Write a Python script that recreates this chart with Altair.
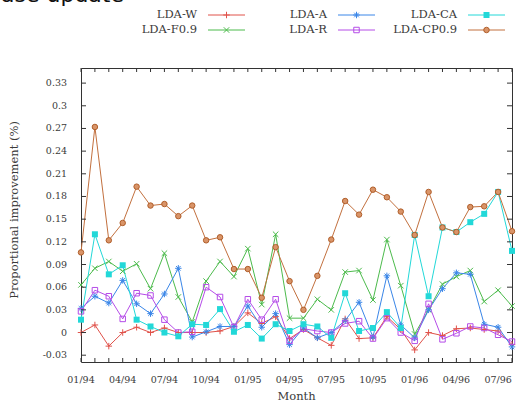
import altair as alt
import pandas as pd

# ---------------- data ----------------
months = ["01/94", "02/94", "03/94", "04/94", "05/94", "06/94", "07/94", "08/94",
          "09/94", "10/94", "11/94", "12/94", "01/95", "02/95", "03/95", "04/95",
          "05/95", "06/95", "07/95", "08/95", "09/95", "10/95", "11/95", "12/95",
          "01/96", "02/96", "03/96", "04/96", "05/96", "06/96", "07/96", "08/96"]

series = ["LDA-W", "LDA-F0.9", "LDA-A", "LDA-R", "LDA-CA", "LDA-CP0.9"]

lda_w = [0.0, 0.01, -0.018, 0.0, 0.007, 0.0, 0.006, 0.0, 0.0, 0.0, 0.002, 0.008,
         0.026, 0.012, 0.021, -0.008, 0.004, -0.007, -0.017, 0.018, -0.008, -0.007,
         0.021, 0.004, -0.023, 0.0, -0.004, 0.005, 0.006, 0.004, 0.002, -0.016]
lda_f09 = [0.063, 0.085, 0.094, 0.081, 0.091, 0.058, 0.105, 0.047, 0.014, 0.068,
           0.094, 0.074, 0.111, 0.037, 0.130, 0.019, 0.019, 0.044, 0.030, 0.080,
           0.082, 0.043, 0.123, 0.062, -0.002, 0.030, 0.064, 0.074, 0.082, 0.041,
           0.056, 0.035]
lda_a = [0.032, 0.048, 0.039, 0.069, 0.038, 0.025, 0.051, 0.085, -0.006, 0.001,
         0.008, 0.008, 0.035, 0.007, 0.025, -0.016, 0.006, -0.007, 0.0, 0.016,
         0.040, -0.006, 0.075, 0.010, -0.007, 0.030, 0.058, 0.079, 0.077, 0.011,
         0.007, -0.019]
lda_r = [0.028, 0.056, 0.048, 0.018, 0.052, 0.049, 0.017, 0.0, 0.001, 0.060,
         0.047, 0.007, 0.044, 0.017, 0.044, -0.011, 0.005, 0.002, 0.0, 0.012,
         0.015, -0.008, 0.019, 0.0, -0.011, 0.038, -0.009, -0.001, 0.008, 0.006,
         -0.003, -0.012]
lda_ca = [0.017, 0.130, 0.077, 0.089, 0.017, 0.008, 0.0, -0.005, 0.011, 0.010,
          0.031, 0.001, 0.010, -0.008, 0.011, 0.002, 0.011, 0.008, -0.007, 0.052,
          0.002, 0.006, 0.027, 0.006, 0.129, 0.048, 0.139, 0.133, 0.146, 0.157,
          0.186, 0.108]
lda_cp09 = [0.106, 0.272, 0.122, 0.145, 0.193, 0.168, 0.170, 0.154, 0.168, 0.122,
            0.126, 0.084, 0.084, 0.046, 0.113, 0.068, 0.030, 0.075, 0.123, 0.174,
            0.156, 0.189, 0.179, 0.160, 0.129, 0.186, 0.139, 0.133, 0.166, 0.167,
            0.186, 0.134]

y_tick_values = [-0.03, 0, 0.03, 0.06, 0.09, 0.12, 0.15, 0.18, 0.21, 0.24, 0.27, 0.3, 0.33]
y_tick_labels = ["-0.03", "0", "0.03", "0.06", "0.09", "0.12", "0.15", "0.18",
                 "0.21", "0.24", "0.27", "0.3", "0.33"]
x_tick_labels = ["01/94", "04/94", "07/94", "10/94", "01/95", "04/95", "07/95",
                 "10/95", "01/96", "04/96", "07/96"]

y_title = "Proportional improvement (%)"
x_title = "Month"
top_fragment = "ase update"

# ---------------- tables ----------------
all_values = [lda_w, lda_f09, lda_a, lda_r, lda_ca, lda_cp09]
rows = []
for s, vals in zip(series, all_values):
    for i, (m, v) in enumerate(zip(months, vals)):
        rows.append({"idx": i, "month": m, "series": s, "value": v})
df = pd.DataFrame(rows)

xt = pd.DataFrame({"idx": list(range(len(months)))})
yt = pd.DataFrame({"value": y_tick_values, "label": y_tick_labels})
xl = pd.DataFrame({"idx": [months.index(m) for m in x_tick_labels],
                   "label": x_tick_labels})
one = pd.DataFrame({"a": [0]})

# ---------------- styles ----------------
W, H = 431, 294
FONT = "DejaVu Serif"
TXT = "#3a3a3a"
FRAME = "#333333"

styles = {
    "LDA-W": dict(color="#e0524a", shape="M-1,0L1,0M0,-1L0,1", filled=False, size=42),
    "LDA-F0.9": dict(color="#4cbb4c", shape="M-1,-1L1,1M-1,1L1,-1", filled=False, size=30),
    "LDA-A": dict(color="#3a86e8",
                  shape="M-1,0L1,0M0,-1L0,1M-0.7,-0.7L0.7,0.7M-0.7,0.7L0.7,-0.7",
                  filled=False, size=42),
    "LDA-R": dict(color="#b54ce8", shape="square", filled=False, size=30),
    "LDA-CA": dict(color="#22d8d8", shape="square", filled=True, size=36),
    "LDA-CP0.9": dict(color="#c2703e", shape="circle", filled=True, size=30),
}

xs = alt.Scale(domain=[0, len(months) - 1], nice=False, zero=False)
ys = alt.Scale(domain=[-0.039, 0.35], nice=False, zero=False)
X = alt.X("idx:Q", scale=xs, axis=None)
Y = alt.Y("value:Q", scale=ys, axis=None)


def point_mark(chart, s):
    st = styles[s]
    if s == "LDA-CP0.9":
        return chart.mark_point(shape="circle", filled=True, size=st["size"],
                                fill="#d99468", stroke="#b05e2a", strokeWidth=1, opacity=1)
    if st["filled"]:
        return chart.mark_point(shape=st["shape"], filled=True, size=st["size"],
                                color=st["color"], opacity=1)
    return chart.mark_point(shape=st["shape"], filled=False, size=st["size"],
                            color=st["color"], strokeWidth=1, opacity=1)


layers = []

# lines, then points
for s in series:
    sub = alt.Chart(df).transform_filter(alt.datum.series == s)
    layers.append(sub.mark_line(strokeWidth=1, color=styles[s]["color"]).encode(x=X, y=Y))
for s in series:
    sub = alt.Chart(df).transform_filter(alt.datum.series == s)
    layers.append(point_mark(sub, s).encode(x=X, y=Y))

# inward tick marks (mirrored on all sides)
layers.append(alt.Chart(xt).mark_rule(color=FRAME, strokeWidth=1).encode(
    x=X, y=alt.value(H), y2=alt.value(H - 4)))
layers.append(alt.Chart(xt).mark_rule(color=FRAME, strokeWidth=1).encode(
    x=X, y=alt.value(0), y2=alt.value(4)))
layers.append(alt.Chart(yt).mark_rule(color=FRAME, strokeWidth=1).encode(
    y=Y, x=alt.value(0), x2=alt.value(5)))
layers.append(alt.Chart(yt).mark_rule(color=FRAME, strokeWidth=1).encode(
    y=Y, x=alt.value(W), x2=alt.value(W - 5)))

# tick labels
layers.append(alt.Chart(yt).mark_text(
    align="right", baseline="middle", font=FONT, fontSize=9.5, color=TXT
).encode(y=Y, x=alt.value(-14), text="label:N"))
layers.append(alt.Chart(xl).mark_text(
    align="center", baseline="middle", font=FONT, fontSize=9.5, color=TXT
).encode(x=X, y=alt.value(H + 18), text="label:N"))

# axis titles
layers.append(alt.Chart(one).mark_text(
    align="center", baseline="middle", font=FONT, fontSize=11.5, color=TXT, angle=270
).encode(x=alt.value(-66), y=alt.value(142), text=alt.value(y_title)))
layers.append(alt.Chart(one).mark_text(
    align="center", baseline="middle", font=FONT, fontSize=11.5, color=TXT
).encode(x=alt.value(W / 2), y=alt.value(H + 35), text=alt.value(x_title)))

# gnuplot-style key: label, then a sample line with marker
for k, s in enumerate(series):
    st = styles[s]
    col, row = divmod(k, 2)
    lx = 116 + 130 * col
    ly = -53 + 15 * row
    layers.append(alt.Chart(one).mark_text(
        align="right", baseline="middle", font=FONT, fontSize=11.5, color=TXT
    ).encode(x=alt.value(lx), y=alt.value(ly), text=alt.value(s)))
    layers.append(alt.Chart(one).mark_rule(strokeWidth=1, color=st["color"]).encode(
        x=alt.value(lx + 11), x2=alt.value(lx + 48), y=alt.value(ly)))
    layers.append(point_mark(alt.Chart(one), s).encode(
        x=alt.value(lx + 29.5), y=alt.value(ly)))

# clipped fragment of page text at the very top
layers.append(alt.Chart(one).mark_text(
    align="left", baseline="alphabetic", font="DejaVu Sans", fontSize=22, color="#111111"
).encode(x=alt.value(-80), y=alt.value(-66), text=alt.value(top_fragment)))

chart = alt.layer(*layers).properties(
    width=W, height=H, autosize="none",
    padding={"left": 81, "top": 68, "right": 4, "bottom": 43},
    background="white",
).configure_view(stroke=FRAME, strokeWidth=1)

chart.save("out.html", embed_options={"renderer": "svg", "actions": False})
